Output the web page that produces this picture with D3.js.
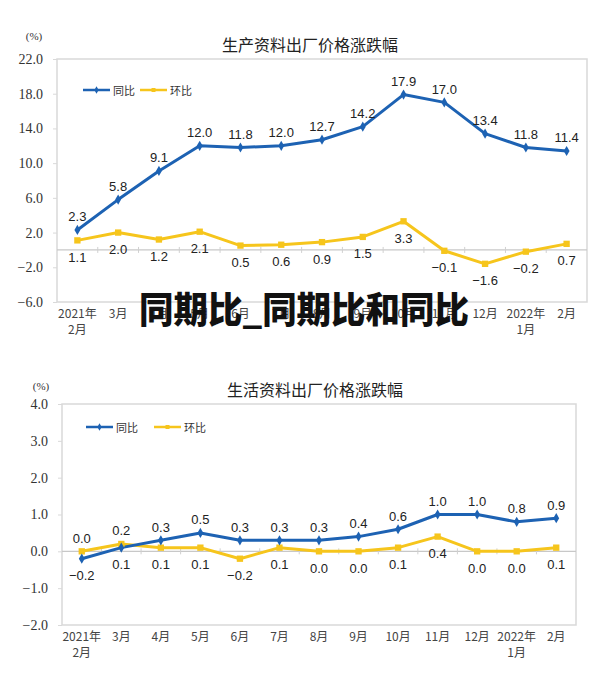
<!DOCTYPE html>
<html><head><meta charset="utf-8">
<script src="https://cdn.jsdelivr.net/npm/d3@7"></script>
<style>
html,body{margin:0;padding:0;background:#fff;}
svg{display:block;}
</style></head>
<body>
<svg id="c" width="608" height="673"></svg>
<script>
// ---------- data ----------
const categories = ["2021年|2月","3月","4月","5月","6月","7月","8月","9月","10月","11月","12月","2022年|1月","2月"];
const seriesNames = ["同比","环比"];
const prodYoY = [2.3,5.8,9.1,12.0,11.8,12.0,12.7,14.2,17.9,17.0,13.4,11.8,11.4];
const prodMoM = [1.1,2.0,1.2,2.1,0.5,0.6,0.9,1.5,3.3,-0.1,-1.6,-0.2,0.7];
const prodTicks = [22,18,14,10,6,2,-2,-6];
const lifeYoY = [-0.2,0.1,0.3,0.5,0.3,0.3,0.3,0.4,0.6,1.0,1.0,0.8,0.9];
const lifeMoM = [0.0,0.2,0.1,0.1,-0.2,0.1,0.0,0.0,0.1,0.4,0.0,0.0,0.1];
const lifeTicks = [4,3,2,1,0,-1,-2];
const titles = ["生产资料出厂价格涨跌幅","生活资料出厂价格涨跌幅"];
const overlayText = "同期比_同期比和同比";

const BLUE = "#1d62b3", YELLOW = "#f6c51c";
const svg = d3.select("#c");

function drawChart(o){
  const g = svg.append("g");
  const x = d3.scaleBand().domain(categories).range([o.left,o.right]);
  const y = d3.scaleLinear().domain([o.ticks[o.ticks.length-1], o.ticks[0]]).range([o.bottom,o.top]);
  const cx = d => x(d) + x.bandwidth()/2;

  // title and unit
  g.append("text").attr("x",o.titleX).attr("y",o.titleY).attr("text-anchor","middle")
    .attr("dominant-baseline","central").attr("font-family","Noto Sans CJK SC").attr("font-size",16)
    .attr("fill","#222").text(o.title);
  g.append("text").attr("x",o.unitX).attr("y",o.unitY).attr("text-anchor","middle")
    .attr("dominant-baseline","central").attr("font-family","Liberation Serif").attr("font-size",11)
    .attr("fill","#333").text("(%)");

  // plot frame
  g.append("rect").attr("x",o.left).attr("y",o.top).attr("width",o.right-o.left).attr("height",o.bottom-o.top)
    .attr("fill","#fff").attr("stroke","#d9d9d9").attr("stroke-width",1.5);

  // y axis
  const ya = d3.axisLeft(y).tickValues(o.ticks).tickFormat(d3.format(".1f")).tickSize(4).tickPadding(10);
  const yg = g.append("g").attr("transform",`translate(${o.left},0)`).call(ya);
  yg.select(".domain").remove();
  yg.selectAll(".tick line").attr("stroke","#d9d9d9");
  yg.selectAll(".tick text").attr("font-family","Liberation Serif").attr("font-size",14).attr("fill","#333");

  // zero line with category ticks
  g.append("line").attr("x1",o.left).attr("x2",o.right).attr("y1",y(0)).attr("y2",y(0))
    .attr("stroke","#c8c8c8").attr("stroke-width",1.2);
  const xa = d3.axisBottom(x).tickValues([]).tickSize(0);
  g.selectAll(".ztick").data(categories.slice(1)).join("line").attr("class","ztick")
    .attr("x1",d=>x(d)).attr("x2",d=>x(d)).attr("y1",y(0)-3).attr("y2",y(0)+3)
    .attr("stroke","#d0d0d0");

  // x labels
  const xl = g.selectAll(".xl").data(categories).join("text").attr("class","xl")
    .attr("x",d=>cx(d)).attr("y",o.bottom+12).attr("text-anchor","middle")
    .attr("font-family","Noto Sans CJK SC").attr("font-size",12).attr("fill","#444");
  xl.each(function(d){
    const parts = d.split("|");
    const t = d3.select(this);
    parts.forEach((p,i)=>{
      t.append("tspan").attr("x",cx(d)).attr("dy", i===0 ? "0.35em" : "1.3em").text(p);
    });
  });

  // lines
  const line = d3.line().x((d,i)=>cx(categories[i])).y(d=>y(d));
  g.append("path").datum(o.mom).attr("d",line).attr("fill","none").attr("stroke",YELLOW).attr("stroke-width",3).attr("stroke-linejoin","round");
  g.append("path").datum(o.yoy).attr("d",line).attr("fill","none").attr("stroke",BLUE).attr("stroke-width",3).attr("stroke-linejoin","round");

  const sq = d3.symbol().type(d3.symbolSquare).size(40);
  const dia = d3.symbol().type(d3.symbolDiamond).size(30);
  g.selectAll(".mm").data(o.mom).join("path").attr("class","mm")
    .attr("transform",(d,i)=>`translate(${cx(categories[i])},${y(d)})`).attr("d",sq).attr("fill",YELLOW);
  g.selectAll(".ym").data(o.yoy).join("path").attr("class","ym")
    .attr("transform",(d,i)=>`translate(${cx(categories[i])},${y(d)})`).attr("d",dia).attr("fill",BLUE);

  // data labels: higher series above, lower series below
  const fmt = d3.format(".1f");
  function labels(arr, other){
    g.selectAll(null).data(arr).join("text")
      .attr("x",(d,i)=>cx(categories[i]))
      .attr("y",(d,i)=> d > other[i] ? y(d)-13 : y(d)+17)
      .attr("text-anchor","middle").attr("dominant-baseline","central")
      .attr("font-family","Liberation Sans").attr("font-size",13).attr("fill","#222")
      .text(d=>fmt(d));
  }
  labels(o.yoy, o.mom);
  labels(o.mom, o.yoy);

  // legend
  const leg = [{n:seriesNames[0],c:BLUE,s:dia,x:o.legX[0]},{n:seriesNames[1],c:YELLOW,s:sq,x:o.legX[1]}];
  leg.forEach(l=>{
    g.append("line").attr("x1",l.x).attr("x2",l.x+27).attr("y1",o.legY).attr("y2",o.legY).attr("stroke",l.c).attr("stroke-width",2.5);
    g.append("path").attr("transform",`translate(${l.x+13.5},${o.legY})`).attr("d",d3.symbol().type(l.s===dia?d3.symbolDiamond:d3.symbolSquare).size(16)).attr("fill",l.c);
    g.append("text").attr("x",l.x+30).attr("y",o.legY).attr("dominant-baseline","central")
      .attr("font-family","Noto Sans CJK SC").attr("font-size",11).attr("fill","#333").text(l.n);
  });
}

drawChart({title:titles[0], yoy:prodYoY, mom:prodMoM, ticks:prodTicks,
  left:57, right:587, top:59, bottom:302, titleX:310, titleY:44, unitX:34, unitY:36,
  legX:[83,140], legY:90});
drawChart({title:titles[1], yoy:lifeYoY, mom:lifeMoM, ticks:lifeTicks,
  left:62, right:576, top:404, bottom:625, titleX:315, titleY:389, unitX:41, unitY:386,
  legX:[86,154], legY:427});

// overlay caption
svg.append("text").attr("x",304).attr("y",307).attr("text-anchor","middle").attr("dominant-baseline","central")
  .attr("font-family","Noto Sans CJK SC").attr("font-weight",900).attr("font-size",36)
  .attr("textLength",330).attr("lengthAdjust","spacingAndGlyphs")
  .attr("fill","#111").text(overlayText);
</script>
</body></html>
